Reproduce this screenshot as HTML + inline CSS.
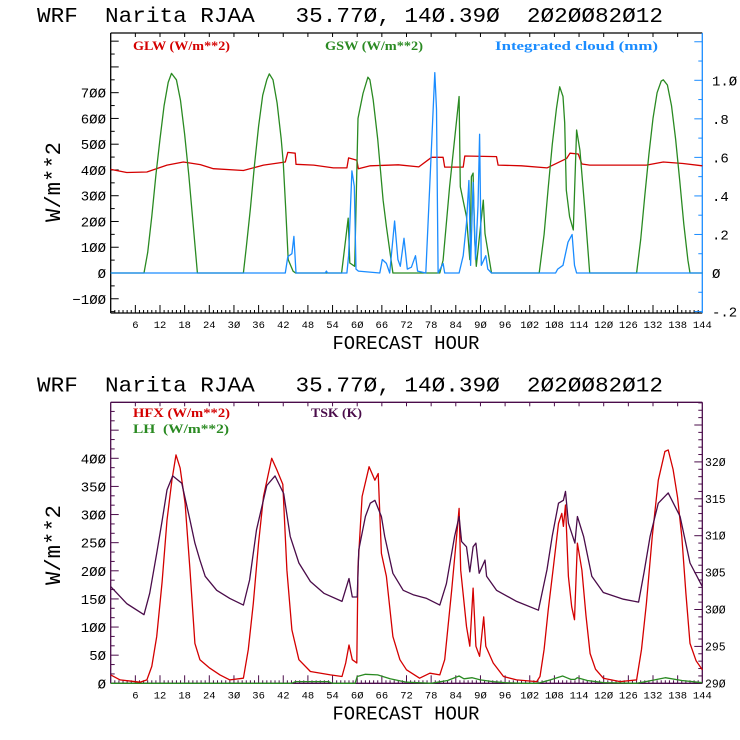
<!DOCTYPE html>
<html><head><meta charset="utf-8"><style>
html,body{margin:0;padding:0;background:#fff;}
svg{display:block;}
.mono{font-family:"Liberation Mono",monospace;white-space:pre;}
.leg{font-family:"Liberation Serif",serif;font-weight:bold;font-size:13px;white-space:pre;}
</style></head><body>
<svg id="chart" width="740" height="740" viewBox="0 0 740 740" xmlns="http://www.w3.org/2000/svg">
<rect x="0" y="0" width="740" height="740" fill="#fff"/>
</svg>
<script>
// ===== Data =====
const xTickLabels = [6,12,18,24,30,36,42,48,54,60,66,72,78,84,90,96,102,108,114,120,126,132,138,144];
const topLeftTicks = [-100,0,100,200,300,400,500,600,700];
const topRightTicks = [-0.2,0,0.2,0.4,0.6,0.8,1.0];
const topRightTickLabels = ['-.2','0','.2','.4','.6','.8','1.0'];
const botLeftTicks = [0,50,100,150,200,250,300,350,400];
const botRightTicks = [290,295,300,305,310,315,320];

const gswHours = [0,8.1,9,10,11,12,13,14,14.8,16,17,18,19,20,21.1,32.3,33,34,35,36,37,38,38.6,39.5,40.5,41.5,42,42.6,43.2,44.4,45,56.2,57.8,58.2,59.4,60.2,61.4,62.6,63.1,63.9,65,66.3,67.1,68.7,80.1,80.9,82.5,84.8,85.1,86.6,87.4,87.8,88.2,88.6,89,90.7,91.1,92.7,104.3,105.5,106.5,107.5,108.5,109.3,110.1,110.5,110.9,111.7,112.6,113.4,114.2,115.5,116.6,128,129,130,131,132,133,134,134.5,135.5,136.5,137.5,138.5,139.5,140.5,141,144];
const gswValues = [0,0,80,220,380,520,650,740,775,750,670,540,380,200,0,0,100,250,420,570,690,750,773,750,660,520,426,250,52,7,0,0,213,39,26,600,697,760,750,672,520,283,180,0,0,50,335,685,335,218,52,374,388,130,26,283,153,0,0,150,330,500,640,723,685,583,322,218,167,555,477,230,0,0,130,300,460,600,700,745,750,730,650,520,360,190,50,0,0];
const glwHours = [0,3.9,8.8,13.7,17.7,21.8,25,32.3,37.2,42.5,43.1,44.9,45.1,49.4,54.2,57.5,57.9,59.9,60.3,63.2,70,75,78.1,80.9,81.3,85.8,86.2,93.9,94.3,100,106.2,111,111.8,113.8,114.7,116.6,130.4,134.5,139.3,144];
const glwValues = [402,390,392,419,431,421,405,398,419,431,468,465,422,419,408,408,447,438,405,416,420,412,449,449,411,411,454,452,419,416,408,445,465,462,423,419,419,431,425,416];
const cldHours = [0,42.5,43.1,44.1,44.6,45.1,52.2,52.5,52.8,57.5,57.9,58.7,59.3,59.7,60.3,65.5,66.1,67.1,67.9,69.1,69.9,70.5,71.4,72.2,73.2,74.2,74.7,76.7,77.7,78.9,79.3,79.7,80.9,81.3,84.8,85.8,86.6,87.2,87.6,88.2,88.8,89.4,89.8,90.2,91.3,91.8,92.7,108.3,108.8,110.1,111.3,112.3,112.9,113.4,144];
const cldValues = [0,0,0.085,0.10,0.19,0,0,0.01,0,0,0.09,0.53,0.45,0.02,0.01,0,0.07,0.05,0,0.27,0.07,0.035,0.18,0.02,0.03,0.09,0.01,0,0.47,1.04,0.85,0,0.05,0,0,0.09,0.26,0.48,0.04,0.47,0.07,0.35,0.72,0.04,0.09,0.02,0,0,0.02,0.04,0.16,0.2,0.04,0,0];

const hfxHours = [0,2.3,7.1,8.8,10,11.2,12.5,13.7,14.9,15.9,16.9,18.1,19.3,20.5,21.7,24.1,26.6,29,32.3,33.5,34.7,36,37.2,39.2,40.4,41.9,42.9,44.1,45.8,48.6,53.5,56.3,57.2,58,58.8,59.9,60.2,61.2,62.9,64.3,65.1,65.9,67.1,68.7,70.4,72,75.2,77.7,80.1,81.3,83,84.2,84.8,85.2,86.6,87.4,88.2,88.9,89.8,90.8,91.3,93.1,95.6,98.8,103.7,104.5,105.5,106.5,107.8,109,109.8,110.2,110.7,111.4,112.2,112.9,113.6,114.7,115.7,116.7,118,119.9,124,128,129.2,130.4,131.8,133.3,134.9,135.7,136.9,138,139,140,141,142.5,144];
const hfxValues = [15,6,2,6,30,83,180,290,361,406,383,320,201,71,42,27,15,6,9,60,142,250,332,400,380,354,201,95,42,21,15,12,36,68,42,36,207,332,385,361,373,231,190,83,42,24,9,18,15,42,166,261,311,201,101,66,169,66,48,118,66,36,12,6,3,12,60,130,210,284,302,279,317,190,136,113,249,201,120,53,25,9,3,6,60,142,260,361,412,415,380,330,261,160,71,40,24];
const lhHours = [0,44,45,53,54,59.5,60,62,65,68,72,78,82,84.8,86,88,90,93,96,100,104,107,110,111,112,113,113.6,116,120,128,131,135,139,144];
const lhValues = [0,0,3,3,0,0,12,16,15,8,2,0,5,13,8,10,6,3,1,0,0,6,13,10,7,7,10,5,1,0,4,10,5,1];
const tskHours = [0,3.9,8.1,9.5,11.2,12.5,13.7,15.1,17.3,19.3,20.5,21.7,23,25.8,29,32.3,33.8,35.5,38,40,42.1,43.7,45.8,48.6,51.9,56.3,58,58.8,60,60.4,62,63.2,64.3,65.9,66.7,68.7,71.2,73.6,76.9,80.1,81.7,83.7,84.8,85.4,86.6,87.4,88.2,88.9,89.7,91.1,91.5,93.9,98.8,104.1,106.2,107.5,109,110.2,110.7,111.4,113,113.6,115.1,117.1,119.9,124.8,128.5,129.8,131.3,133.3,135.7,138.6,141,144];
const tskValues = [303.1,300.8,299.3,302.2,307.6,312,316.2,318.1,317.1,312.1,309,306.7,304.5,302.6,301.5,300.6,304,310.8,316.8,318.1,315.7,309.9,306.3,303.8,302.2,301.1,304.2,301.7,301.7,308.1,312.6,314.4,314.8,312.6,309.9,304.9,302.6,302,301.5,300.6,303.5,309.9,312.6,309.2,308.5,305.1,308.5,309,304.9,306.7,304.5,302.6,301.1,299.9,305.4,310,314.4,314.8,316,311.7,309,312.6,309.9,304.5,302.3,301.4,301,305,309.9,314.4,315.8,312.6,306.3,303.1];

// ===== Geometry =====
const NS='http://www.w3.org/2000/svg';
const svg=document.getElementById('chart');
const X0=110.7, X1=702.3;
const xs=h=>X0+(X1-X0)*h/144;
function el(tag,attrs,parent){const e=document.createElementNS(NS,tag);for(const k in attrs)e.setAttribute(k,attrs[k]);(parent||svg).appendChild(e);return e;}
function txt(s,attrs,parent){const e=el('text',attrs,parent);e.textContent=s;return e;}

function panel(cfg){
  const g=el('g',{});
  
  
  const {top,bot,fc,rc}=cfg;
  const t=txt('WRF  Narita RJAA   35.77Ø, 14Ø.39Ø  2Ø2ØØ82Ø12',{x:37,y:top-11,'font-size':21,class:'mono',textLength:626,lengthAdjust:'spacingAndGlyphs',fill:'#000'},g);
  
  
  el('line',{x1:X0,y1:top,x2:X1,y2:top,stroke:fc,'stroke-width':1.3},g);
  el('line',{x1:X0,y1:bot,x2:X1,y2:bot,stroke:fc,'stroke-width':1.3},g);
  el('line',{x1:X0,y1:top,x2:X0,y2:bot,stroke:fc,'stroke-width':1.3},g);
  el('line',{x1:X1,y1:top,x2:X1,y2:bot,stroke:rc,'stroke-width':1.3},g);
  for(let h=1;h<144;h++){
    const major=h%6===0; const x=xs(h);
    el('line',{x1:x,y1:bot,x2:x,y2:bot-(major?8:3),stroke:fc,'stroke-width':1},g);
    if(major) el('line',{x1:x,y1:top,x2:x,y2:top+4,stroke:fc,'stroke-width':1},g);
  }
  const xl=el('g',{},g);
  
  
  xTickLabels.forEach(v=>txt(String(v).replace(/0/g,'Ø'),{x:xs(v),y:bot+15,'font-size':10.5,class:'mono','text-anchor':'middle'},xl));
  const xt=txt('FORECAST HOUR',{x:406,y:bot+36,'font-size':19,class:'mono','text-anchor':'middle',textLength:147,lengthAdjust:'spacingAndGlyphs'},g);
  
  
  const yt=txt('W/m**2',{x:0,y:0,'font-size':22,class:'mono','text-anchor':'middle',transform:`translate(${cfg.ytx},${cfg.yty}) rotate(-90)`,textLength:80,lengthAdjust:'spacingAndGlyphs'},g);
  
  
  return g;
}
function line(g,hours,vals,ys,color,name){
  const pts=hours.map((h,i)=>xs(h).toFixed(1)+','+ys(vals[i]).toFixed(1)).join(' ');
  const p=el('polyline',{points:pts,fill:'none',stroke:color,'stroke-width':1.3,'stroke-linejoin':'round'},g);
  
  
}

const RED='#d40000',GRN='#2a8a22',BLU='#1a8cff',PUR='#4a0c4a';
{
  const top=33,bot=313;
  const yL=v=>273-v*0.2576;
  const yR=v=>273-v*192.7;
  const g=panel({name:'radiation-panel',top,bot,fc:'#000',rc:BLU,ytx:60,yty:182});
  for(let v=-150;v<=900;v+=50){const y=yL(v);if(y<top||y>bot)continue;const maj=v%100===0;el('line',{x1:X0,y1:y,x2:X0+(maj?8:4),y2:y,stroke:'#000'},g);}
  topLeftTicks.forEach(v=>txt(String(v).replace(/0/g,'Ø').replace('-','−'),{x:106,y:yL(v)+5,'font-size':14,class:'mono','text-anchor':'end'},g));
  for(let k=-2;k<=12;k++){const y=yR(k/10);if(y<top||y>bot)continue;el('line',{x1:X1,y1:y,x2:X1-(k%2===0?8:4),y2:y,stroke:BLU},g);}
  topRightTicks.forEach((v,i)=>txt(topRightTickLabels[i].replace(/0/g,'Ø'),{x:712,y:yR(v)+5,'font-size':14,class:'mono'},g));
  line(g,glwHours,glwValues,yL,RED,'glw-line');
  line(g,gswHours,gswValues,yL,GRN,'gsw-line');
  line(g,cldHours,cldValues,yR,BLU,'cloud-line');
  let l=txt('GLW (W/m**2)',{x:133,y:50,class:'leg',fill:RED,textLength:97,lengthAdjust:'spacingAndGlyphs'},g);
  
  l=txt('GSW (W/m**2)',{x:325,y:50,class:'leg',fill:GRN,textLength:98,lengthAdjust:'spacingAndGlyphs'},g);
  
  l=txt('Integrated cloud (mm)',{x:495,y:50,class:'leg',fill:BLU,textLength:163,lengthAdjust:'spacingAndGlyphs'},g);
  
}
{
  const top=402.3,bot=683.3;
  const yL=v=>bot-v*0.5625;
  const yR=v=>bot-(v-290)*7.38;
  const g=panel({name:'flux-panel',top,bot,fc:PUR,rc:PUR,ytx:60,yty:545});
  for(let k=0;k<=30;k++){const v=k*50/3;const y=yL(v);if(y<top)continue;const maj=k%3===0;el('line',{x1:X0,y1:y,x2:X0+(maj?8:4),y2:y,stroke:PUR},g);}
  botLeftTicks.forEach(v=>txt(String(v).replace(/0/g,'Ø'),{x:106,y:yL(v)+5,'font-size':14,class:'mono','text-anchor':'end'},g));
  for(let v=290;v<=328;v++){const y=yR(v);if(y<top)continue;el('line',{x1:X1,y1:y,x2:X1-(v%5===0?8:4),y2:y,stroke:PUR},g);}
  botRightTicks.forEach(v=>txt(String(v).replace(/0/g,'Ø'),{x:705,y:yR(v)+4,'font-size':11.5,class:'mono'},g));
  line(g,lhHours,lhValues,yL,GRN,'lh-line');
  line(g,hfxHours,hfxValues,yL,RED,'hfx-line');
  line(g,tskHours,tskValues,yR,PUR,'tsk-line');
  let l=txt('HFX (W/m**2)',{x:133,y:417,class:'leg',fill:RED,textLength:97,lengthAdjust:'spacingAndGlyphs'},g);
  
  l=txt('LH  (W/m**2)',{x:133,y:433,class:'leg',fill:GRN,textLength:96,lengthAdjust:'spacingAndGlyphs'},g);
  
  l=txt('TSK (K)',{x:311,y:417,class:'leg',fill:PUR,textLength:51,lengthAdjust:'spacingAndGlyphs'},g);
  
}
</script>
</body></html>
